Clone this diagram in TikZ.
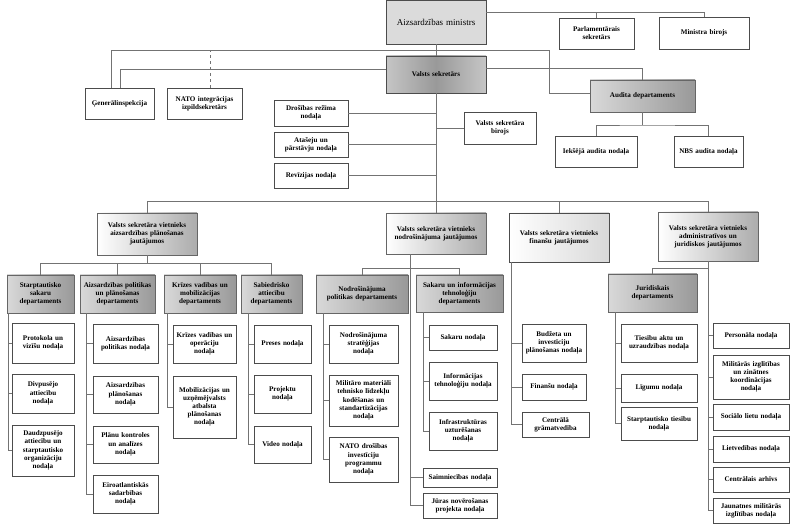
\documentclass[tikz,border=0pt]{standalone}
\usepackage{fontspec}
\setmainfont{Liberation Serif}
\begin{document}
\begin{tikzpicture}[x=1pt,y=-1pt,
 box/.style={draw=black!70,fill=white,font=\fontsize{7.1}{8.1}\selectfont\bfseries,align=center,inner ysep=0pt,inner xsep=1.5pt},
 dark/.style={left color=gray!30,right color=gray!80,draw=black!60},
 dep/.style={left color=white,right color=gray!65,draw=black!60},
 mid/.style={left color=white,right color=gray!30},
 ln/.style={draw=black!55,line width=0.5pt}]
\useasboundingbox (0,0) rectangle (800,529);
\newcommand\bx[7]{\pgfmathsetmacro\bw{#4-#2}\pgfmathsetmacro\bh{#5-#3}\pgfmathsetmacro\tw{#4-#2-3}%
 \node[box,#6,minimum width=\bw pt,minimum height=\bh pt,text width=\tw pt] (#1) at ({(#2+#4)/2},{(#3+#5)/2}) {#7};}
% top
\bx{min}{386}{0}{486}{44}{fill=gray!28,font=\fontsize{9}{10}\selectfont}{Aizsardzības ministrs}
\bx{parl}{559}{18}{634}{49}{}{Parlamentārais\\sekretārs}
\bx{mb}{659}{17}{749}{49}{}{Ministra birojs}
\bx{vs}{386}{56}{486}{93}{left color=gray!45,right color=gray!45,middle color=gray!80}{Valsts sekretārs}
\bx{gen}{85}{88}{154}{119}{}{Ģenerālinspekcija}
\bx{nato}{167}{88}{242}{119}{}{NATO integrācijas\\izpildsekretārs}
\bx{dros}{274}{100}{348}{126}{}{Drošības režīma\\nodaļa}
\bx{atas}{274}{132}{348}{157}{}{Atašeju un\\pārstāvju nodaļa}
\bx{rev}{274}{163}{348}{188}{}{Revīzijas nodaļa}
\bx{vsb}{464}{112}{536}{144}{}{Valsts sekretāra\\birojs}
\bx{aud}{590}{80}{695}{112}{dark}{Audita departaments}
\bx{iek}{555}{136}{637}{167}{}{Iekšējā audita nodaļa}
\bx{nbs}{674}{136}{743}{167}{}{NBS audita nodaļa}
% deputies
\bx{d1}{97}{213}{197}{255}{dep}{Valsts sekretāra vietnieks\\aizsardzības plānošanas\\jautājumos}
\bx{d2}{386}{213}{486}{254}{dep}{Valsts sekretāra vietnieks\\nodrošinājuma jautājumos}
\bx{d3}{509}{213}{609}{262}{mid}{Valsts sekretāra vietnieks\\finanšu jautājumos}
\bx{d4}{658}{212}{758}{261}{dep}{Valsts sekretāra vietnieks\\administratīvos un\\juridiskos jautājumos}
% departments
\bx{p1}{7}{275}{74}{313}{dark}{Starptautisko\\sakaru\\departaments}
\bx{p2}{80}{275}{155}{313}{dark}{Aizsardzības politikas\\un plānošanas\\departaments}
\bx{p3}{164}{275}{236}{313}{dark}{Krīzes vadības un\\mobilizācijas\\departaments}
\bx{p4}{241}{275}{302}{313}{dark}{Sabiedrisko\\attiecību\\departaments}
\bx{n1}{316}{275}{408}{313}{dark}{Nodrošinājuma\\politikas departaments}
\bx{s1}{416}{275}{503}{312}{dark}{Sakaru un informācijas\\tehnoloģiju\\departaments}
\bx{jd}{608}{274}{697}{312}{dark}{Juridiskais\\departaments}
% p1 children
\bx{c11}{12}{323}{74}{363}{}{Protokola un\\vizīšu nodaļa}
\bx{c12}{12}{374}{74}{413}{}{Divpusējo\\attiecību\\nodaļa}
\bx{c13}{12}{425}{74}{476}{}{Daudzpusējo\\attiecību un\\starptautisko\\organizāciju\\nodaļa}
\bx{c21}{93}{324}{158}{363}{}{Aizsardzības\\politikas nodaļa}
\bx{c22}{93}{376}{158}{413}{}{Aizsardzības\\plānošanas\\nodaļa}
\bx{c23}{93}{426}{158}{463}{}{Plānu kontroles\\un analīzes\\nodaļa}
\bx{c24}{93}{475}{158}{513}{}{Eiroatlantiskās\\sadarbības\\nodaļa}
\bx{c31}{173}{325}{236}{363}{}{Krīzes vadības un\\operāciju\\nodaļa}
\bx{c32}{173}{376}{236}{438}{}{Mobilizācijas un\\uzņēmējvalsts\\atbalsta\\plānošanas\\nodaļa}
\bx{c41}{254}{325}{311}{363}{}{Preses nodaļa}
\bx{c42}{254}{375}{311}{413}{}{Projektu\\nodaļa}
\bx{c43}{254}{426}{311}{463}{}{Video nodaļa}
\bx{c51}{329}{325}{398}{363}{}{Nodrošinājuma\\stratēģijas\\nodaļa}
\bx{c52}{329}{375}{398}{426}{}{Militāro materiāli\\tehnisko līdzekļu\\kodēšanas un\\standartizācijas\\nodaļa}
\bx{c53}{329}{437}{398}{482}{}{NATO drošības\\investīciju\\programmu\\nodaļa}
\bx{c61}{429}{325}{497}{350}{}{Sakaru nodaļa}
\bx{c62}{429}{362}{497}{400}{}{Informācijas\\tehnoloģiju nodaļa}
\bx{c63}{429}{412}{497}{450}{}{Infrastruktūras\\uzturēšanas\\nodaļa}
\bx{saim}{423}{468}{497}{487}{}{Saimniecības nodaļa}
\bx{jur}{423}{493}{497}{518}{}{Jūras novērošanas\\projekta nodaļa}
\bx{f1}{522}{324}{586}{362}{}{Budžeta un\\investīciju\\plānošanas nodaļa}
\bx{f2}{522}{374}{586}{400}{}{Finanšu nodaļa}
\bx{f3}{522}{412}{589}{437}{}{Centrālā\\grāmatvedība}
\bx{j1}{621}{324}{697}{362}{}{Tiesību aktu un\\uzraudzības nodaļa}
\bx{j2}{621}{374}{697}{402}{}{Līgumu nodaļa}
\bx{j3}{621}{407}{697}{440}{}{Starptautisko tiesību\\nodaļa}
\bx{a1}{713}{323}{789}{348}{}{Personāla nodaļa}
\bx{a2}{713}{355}{789}{399}{}{Militārās izglītības\\un zinātnes\\koordinācijas\\nodaļa}
\bx{a3}{713}{404}{789}{430}{}{Sociālo lietu nodaļa}
\bx{a4}{713}{436}{789}{462}{}{Lietvedības nodaļa}
\bx{a5}{713}{467}{789}{492}{}{Centrālais arhīvs}
\bx{a6}{713}{498}{789}{523}{}{Jaunatnes militārās\\izglītības nodaļa}
% connectors top
\draw[ln] (min.east |- 0,12) -| (mb.north);
\draw[ln] (parl.north) -- (parl.north |- 0,12);
\draw[ln] (min.south) -- (vs.north);
\draw[ln] (gen.north -| 111,0) |- (549,50) |- (aud.west |- 0,93);
\draw[ln,dashed] (nato.north -| 210,0) -- (210,50);
\draw[ln] (vs.west |- 0,69) -| (gen.north -| 120,0);
\draw[ln] (vs.east |- 0,68) -| (aud.north);
\draw[ln] (vs.south) -- (vs.south |- 0,201);
\foreach \n in {dros,atas,rev}{\draw[ln] (\n.east) -- (\n.east -| vs.south);}
\draw[ln] (vsb.west) -- (vsb.west -| vs.south);
\draw[ln] (aud.south) -- (aud.south |- 0,125);
\draw[ln] (iek.north) |- (aud.south |- 0,125) -| (nbs.north);
% deputies bus
\draw[ln] (d1.north) -- (d1.north |- 0,201) -- (d4.north |- 0,201) -- (d4.north);
\draw[ln] (d3.north) -- (d3.north |- 0,201);
\draw[ln] (d2.north) -- (d2.north |- 0,201);
% d1
\draw[ln] (d1.south) -- (d1.south |- 0,263);
\draw[ln] (p1.north) -- (p1.north |- 0,263) -| (p4.north);
\draw[ln] (p2.north) -- (p2.north |- 0,263);
\draw[ln] (p3.north) -- (p3.north |- 0,263);
\draw[ln] (p1.south -| 8,0) |- (c13.west);
\foreach \n in {c11,c12}{\draw[ln] (\n.west) -- (\n.west -| 8,0);}
\draw[ln] (p2.south -| 86,0) |- (c24.west);
\foreach \n in {c21,c22,c23}{\draw[ln] (\n.west) -- (\n.west -| 86,0);}
\draw[ln] (p3.south -| 167,0) |- (c32.west);
\draw[ln] (c31.west) -- (c31.west -| 167,0);
\draw[ln] (p4.south -| 248,0) |- (c43.west);
\foreach \n in {c41,c42}{\draw[ln] (\n.west) -- (\n.west -| 248,0);}
% d2
\draw[ln] (d2.south -| 410,0) |- (jur.west);
\draw[ln] (saim.west) -- (saim.west -| 410,0);
\draw[ln] (n1.north) -- (n1.north |- 0,268) -| (s1.north);
\draw[ln] (n1.south -| 323,0) |- (c53.west);
\foreach \n in {c51,c52}{\draw[ln] (\n.west) -- (\n.west -| 323,0);}
\draw[ln] (s1.south -| 423,0) |- (c63.west);
\foreach \n in {c61,c62}{\draw[ln] (\n.west) -- (\n.west -| 423,0);}
% d3
\draw[ln] (d3.south -| 511,0) |- (f3.west);
\foreach \n in {f1,f2}{\draw[ln] (\n.west) -- (\n.west -| 511,0);}
% d4
\draw[ln] (d4.south) -- (d4.south |- 0,268) -| (jd.north);
\draw[ln] (d4.south) |- (a6.west);
\foreach \n in {a1,a2,a3,a4,a5}{\draw[ln] (\n.west) -- (\n.west -| d4.south);}
\draw[ln] (jd.south -| 615,0) |- (j3.west);
\foreach \n in {j1,j2}{\draw[ln] (\n.west) -- (\n.west -| 615,0);}
\end{tikzpicture}
\end{document}
